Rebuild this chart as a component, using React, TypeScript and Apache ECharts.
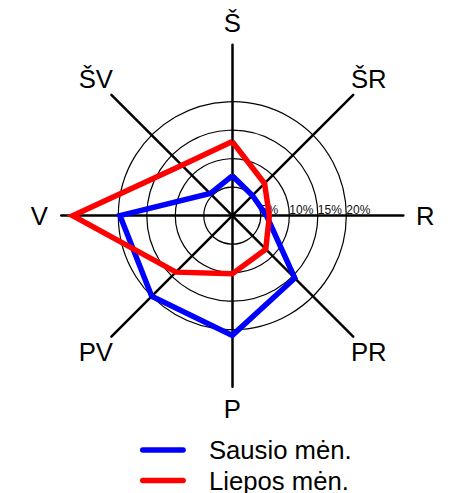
import React, { useEffect, useRef } from "react";
import * as echarts from "echarts";

// Compass directions, clockwise from north
const directions = ["Š", "ŠR", "R", "PR", "P", "PV", "V", "ŠV"];
const seriesNames = ["Sausio mėn.", "Liepos mėn."];
const januaryValues = [7, 5, 6, 15.5, 21, 20, 19.7, 5.5];
const julyValues = [13, 8, 6.5, 8.3, 10.2, 14, 28, 12.5];
const seriesColors = ["#0000ff", "#ff0000"];
const axisMax = 30;
const ringStep = 5;
const labelledMax = 20;

// ECharts radar places indicators counter-clockwise from the top
const ccwOrder = [0, 7, 6, 5, 4, 3, 2, 1];

const FONT = "'Liberation Sans', Arial, Helvetica, sans-serif";

export default function App() {
  const ref = useRef<HTMLDivElement>(null);
  useEffect(() => {
    if (!ref.current) return;
    const chart = echarts.init(ref.current, null, { renderer: "svg" });
    const indicator = ccwOrder.map((i) => {
      const ind: any = { name: directions[i], min: 0, max: axisMax };
      if (directions[i] === "R") {
        ind.axisLabel = { show: true };
      }
      return ind;
    });
    const ringCount = axisMax / ringStep;
    const ringColors: string[] = [];
    for (let k = 0; k <= ringCount; k++) {
      ringColors.push(k * ringStep <= labelledMax ? "#000" : "rgba(0,0,0,0)");
    }
    const allValues = [januaryValues, julyValues];
    const legendBase = {
      orient: "vertical",
      left: 140,
      padding: 0,
      itemWidth: 50,
      itemHeight: 5.5,
      icon: "path://M3,0 L47,0 A3,3 0 0 1 47,6 L3,6 A3,3 0 0 1 3,0 Z",
      textStyle: {
        fontSize: 25.7,
        lineHeight: 26,
        color: "#000",
        fontFamily: FONT,
        padding: [0, 0, 0, 16],
      },
    };
    chart.setOption({
      animation: false,
      legend: [
        { ...legendBase, data: [seriesNames[0]], top: 437 },
        { ...legendBase, data: [seriesNames[1]], top: 467.5 },
      ],
      radar: {
        center: [232.3, 215.7],
        radius: 171,
        startAngle: 90,
        shape: "circle",
        splitNumber: ringCount,
        indicator,
        axisName: {
          color: "#000",
          fontSize: 25.7,
          fontFamily: FONT,
          align: "center",
          verticalAlign: "middle",
        },
        nameGap: 22,
        axisLine: { show: true, lineStyle: { color: "#000", width: 2.5 } },
        axisTick: { show: false },
        axisLabel: {
          show: false,
          color: "#111",
          fontSize: 12,
          fontFamily: FONT,
          align: "left",
          verticalAlign: "bottom",
          margin: 0,
          formatter: (v: number) =>
            v > 0 && v <= labelledMax ? `${v}%` : "",
        },
        splitLine: { show: true, lineStyle: { color: ringColors, width: 1.2 } },
        splitArea: { show: false },
      },
      series: [
        {
          type: "radar",
          symbol: "none",
          data: allValues.map((vals, s) => ({
            name: seriesNames[s],
            value: ccwOrder.map((i) => vals[i]),
            lineStyle: { color: seriesColors[s], width: 5.5, join: "miter" },
            itemStyle: { color: seriesColors[s] },
          })),
        },
      ],
    });
    return () => chart.dispose();
  }, []);
  return (
    <div
      ref={ref}
      style={{ position: "fixed", left: 0, top: 0, width: 465, height: 493, background: "#fff" }}
    />
  );
}
